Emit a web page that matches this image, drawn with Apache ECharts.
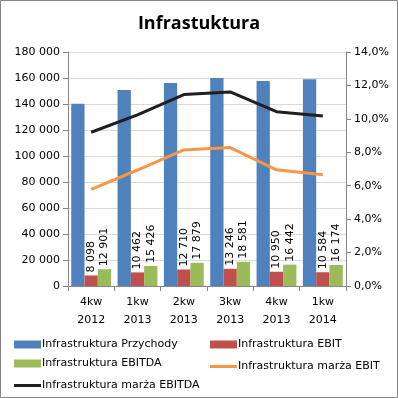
<!DOCTYPE html>
<html>
<head>
<meta charset="utf-8">
<script src="https://cdn.jsdelivr.net/npm/echarts@6/dist/echarts.min.js"></script>
<style>
  html, body { margin: 0; padding: 0; background: #fff; }
  #chart { width: 398px; height: 398px; }
</style>
</head>
<body>
<div id="chart"></div>
<script>
// dane kwartalne
const kwartaly = ['4kw\n2012', '1kw\n2013', '2kw\n2013', '3kw\n2013', '4kw\n2013', '1kw\n2014'];
const przychody = [140200, 150700, 156200, 160000, 157600, 159100];
const ebit = [8098, 10462, 12710, 13246, 10950, 10584];
const ebitda = [12901, 15426, 17879, 18581, 16442, 16174];
const marzaEbit = [5.78, 6.94, 8.14, 8.28, 6.95, 6.65];
const marzaEbitda = [9.2, 10.24, 11.45, 11.61, 10.43, 10.17];

const font = 'DejaVu Sans';
const fmtTys = v => {
  const s = String(Math.round(v));
  return s.replace(/\B(?=(\d{3})+(?!\d))/g, ' ');
};

const chart = echarts.init(document.getElementById('chart'));

// etykieta pionowa, zaczyna sie tuz nad slupkiem
const barLabel = {
  show: true,
  position: 'top',
  distance: 3,
  rotate: 90,
  align: 'left',
  verticalAlign: 'middle',
  fontFamily: font,
  fontSize: 11,
  color: '#000',
  formatter: p => fmtTys(p.value)
};

function legendAt(name, left, top, isLine) {
  return {
    data: [{ name: name, icon: 'rect' }],
    left: left,
    top: top,
    itemWidth: 27,
    itemHeight: isLine ? 3 : 8,
    itemGap: 0,
    padding: 0,
    textStyle: { fontFamily: font, fontSize: 11, color: '#000', padding: [0, 0, 0, -4] }
  };
}

chart.setOption({
  animation: false,
  graphic: [{
    type: 'rect',
    shape: { x: 0.5, y: 0.5, width: 397, height: 397 },
    style: { fill: 'none', stroke: '#868686', lineWidth: 1 },
    silent: true
  }],
  title: {
    text: 'Infrastuktura',
    left: 'center',
    top: 10,
    textStyle: { fontFamily: 'Open Sans', fontWeight: 'bold', fontSize: 18, color: '#000' }
  },
  legend: [
    legendAt('Infrastruktura Przychody', 14, 339, false),
    legendAt('Infrastruktura EBIT', 210, 339, false),
    legendAt('Infrastruktura EBITDA', 14, 358, false),
    legendAt('Infrastruktura marża EBIT', 210, 361, true),
    legendAt('Infrastruktura marża EBITDA', 14, 380, true)
  ],
  grid: { left: 68, right: 52, top: 52, bottom: 112, containLabel: false },
  xAxis: {
    type: 'category',
    data: kwartaly,
    axisLine: { lineStyle: { color: '#868686' } },
    axisTick: { show: true, alignWithLabel: false, length: 5, lineStyle: { color: '#868686' } },
    axisLabel: { fontFamily: font, fontSize: 11, color: '#000', lineHeight: 18, margin: 7 }
  },
  yAxis: [{
    type: 'value',
    min: 0, max: 180000, interval: 20000,
    axisLine: { show: true, lineStyle: { color: '#868686' } },
    axisTick: { show: true, length: 5, lineStyle: { color: '#868686' } },
    splitLine: { lineStyle: { color: '#d9d9d9' } },
    axisLabel: { fontFamily: font, fontSize: 11, color: '#000', margin: 8, formatter: v => fmtTys(v) }
  }, {
    type: 'value',
    min: 0, max: 14, interval: 2,
    axisLine: { show: true, lineStyle: { color: '#868686' } },
    axisTick: { show: true, length: 5, lineStyle: { color: '#868686' } },
    splitLine: { show: false },
    axisLabel: { fontFamily: font, fontSize: 11, color: '#000', margin: 8, formatter: v => v.toFixed(1).replace('.', ',') + '%' }
  }],
  series: [{
    name: 'Infrastruktura Przychody',
    type: 'bar',
    data: przychody,
    itemStyle: { color: '#4f81bd' },
    barGap: '0%',
    barCategoryGap: '14%'
  }, {
    name: 'Infrastruktura EBIT',
    type: 'bar',
    data: ebit,
    itemStyle: { color: '#c0504d' },
    label: barLabel
  }, {
    name: 'Infrastruktura EBITDA',
    type: 'bar',
    data: ebitda,
    itemStyle: { color: '#9bbb59' },
    label: barLabel
  }, {
    name: 'Infrastruktura marża EBIT',
    type: 'line',
    yAxisIndex: 1,
    data: marzaEbit,
    showSymbol: false,
    symbol: 'none',
    lineStyle: { color: '#f79646', width: 3 },
    itemStyle: { color: '#f79646' }
  }, {
    name: 'Infrastruktura marża EBITDA',
    type: 'line',
    yAxisIndex: 1,
    data: marzaEbitda,
    showSymbol: false,
    symbol: 'none',
    lineStyle: { color: '#1f1f1f', width: 3 },
    itemStyle: { color: '#1f1f1f' }
  }]
});
</script>
</body>
</html>
